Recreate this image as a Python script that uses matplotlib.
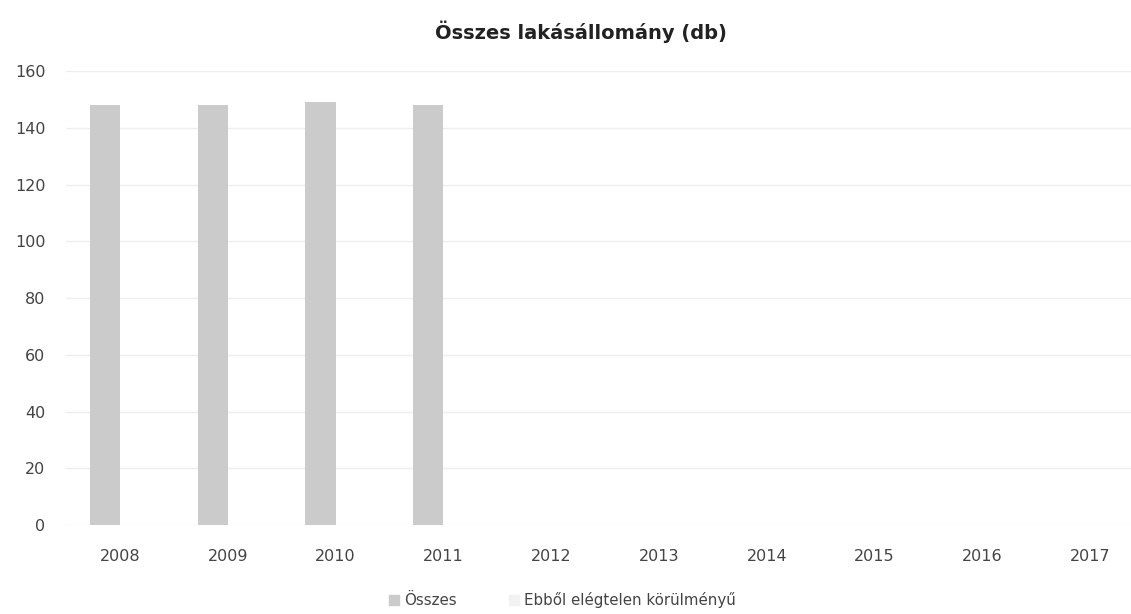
import numpy as np
import matplotlib.pyplot as plt
from matplotlib.patches import Patch

years = ['2008', '2009', '2010', '2011', '2012', '2013', '2014', '2015', '2016', '2017']
osszes = [148, 148, 149, 148, 0, 0, 0, 0, 0, 0]
elegtelen = [0, 0, 0, 0, 0, 0, 0, 0, 0, 0]
yticks = [0, 20, 40, 60, 80, 100, 120, 140, 160]

plt.rcParams['font.family'] = ['DejaVu Sans']

fig = plt.figure(figsize=(11.31, 6.14), dpi=100)
ax = fig.add_axes([0.0585, 0.145, 0.953, 0.739])

x = np.arange(len(years))
w = 0.28
ax.bar(x - w / 2, osszes, width=w, color='#cbcbcb', zorder=2)
ax.bar(x + w / 2, elegtelen, width=w, color='#f2f2f2', zorder=2)

ax.set_xlim(-0.5, len(years) - 0.5)
ax.set_ylim(0, 160)
ax.set_yticks(yticks)
ax.set_xticks(x)
ax.set_xticklabels(years)
ax.grid(axis='y', color='#eeeeee', linewidth=1, zorder=0)
for s in ax.spines.values():
    s.set_visible(False)
ax.tick_params(length=0, labelsize=11.5, labelcolor='#444444')
ax.tick_params(axis='y', pad=15)
ax.tick_params(axis='x', pad=17)

fig.text(0.514, 0.948, 'Összes lakásállomány (db)', ha='center', va='center',
         fontsize=14, fontweight='bold', color='#222222')

handles = [Patch(color='#cbcbcb', label='Összes'),
           Patch(color='#f2f2f2', label='Ebből elégtelen körülményű')]
fig.legend(handles=handles, loc='center', bbox_to_anchor=(0.497, 0.022), ncol=2,
           frameon=False, fontsize=10.8, handlelength=0.7, handleheight=0.7,
           columnspacing=3.5, handletextpad=0.3, labelcolor='#444444')

fig.savefig('out.png', dpi=100, facecolor='white')
